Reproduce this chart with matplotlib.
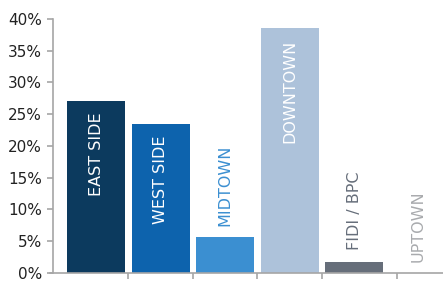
import matplotlib.pyplot as plt
from matplotlib.ticker import FixedLocator

areas = ["EAST SIDE", "WEST SIDE", "MIDTOWN", "DOWNTOWN", "FIDI / BPC", "UPTOWN"]
shares = [27.1, 23.4, 5.7, 38.5, 1.8, 0.0]
bar_colors = ["#0c3a5e", "#0d63ad", "#3b8fd1", "#adc2da", "#666e7a", "#ffffff"]
outside_colors = ["#0c3a5e", "#0d63ad", "#3b8fd1", "#adc2da", "#666e7a", "#a9abae"]
yticks = [0, 5, 10, 15, 20, 25, 30, 35, 40]

plt.rcParams["font.family"] = ["DejaVu Sans"]

fig = plt.figure(figsize=(4.43, 2.84), dpi=100)
ax = fig.add_axes([0.12, 0.0387, 0.88, 0.8946])

xs = list(range(len(areas)))
ax.bar(xs, shares, width=0.9, color=bar_colors)

for x, v, name, c in zip(xs, shares, areas, outside_colors):
    if v > 15:
        ax.annotate(name, (x, v), xytext=(0, -8), textcoords="offset points",
                    rotation=90, ha="center", va="top", color="white",
                    fontsize=11.5)
    else:
        ax.annotate(name, (x, v), xytext=(0, 8), textcoords="offset points",
                    rotation=90, ha="center", va="bottom", color=c,
                    fontsize=11.5)

ax.set_xlim(-0.667, 5.38)
ax.set_ylim(0, 40)
ax.set_yticks(yticks)
ax.set_yticklabels([f"{t}%" for t in yticks])
ax.xaxis.set_major_locator(FixedLocator([0.5, 1.5, 2.5, 3.5, 4.67]))
ax.set_xticklabels([])

for s in ["top", "right"]:
    ax.spines[s].set_visible(False)
for s in ["left", "bottom"]:
    ax.spines[s].set_color("#a6a6a6")
    ax.spines[s].set_linewidth(1.2)
ax.spines["bottom"].set_bounds(-0.72, 5.38)
ax.tick_params(axis="both", color="#a6a6a6", length=4, width=1.2)
ax.tick_params(axis="y", labelsize=11, labelcolor="#222222", pad=4)

fig.savefig("out.png", dpi=100)
